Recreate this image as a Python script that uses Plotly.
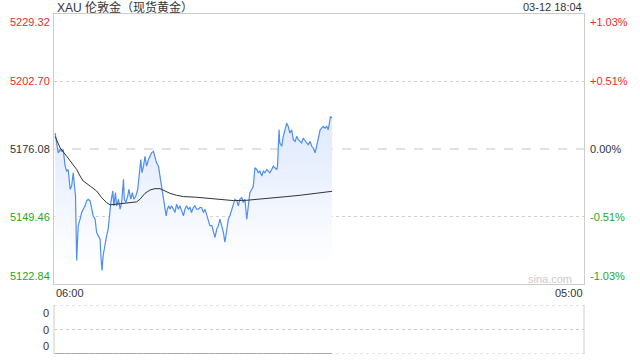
import plotly.graph_objects as go

# ---- data ----
title_text = "XAU 伦敦金（现货黄金）"
time_text = "03-12 18:04"
prev_close = 5176.08
price_ticks = [5229.32, 5202.70, 5176.08, 5149.46, 5122.84]
pct_ticks = ["+1.03%", "+0.51%", "0.00%", "-0.51%", "-1.03%"]
x_tick_labels = ["06:00", "05:00"]
session_minutes = 1380  # 06:00 -> 05:00 next day

# minutes after 06:00
price_times = [3, 7, 11, 16, 20, 24, 29, 33, 37, 42, 46, 50, 53, 56, 59, 63, 68, 72, 76, 81,
               85, 89, 94, 98, 102, 107, 111, 115, 120, 122, 125, 128, 133, 137, 141, 146, 148, 153, 156, 160,
               163, 168, 172, 176, 181, 183, 187, 192, 195, 200, 204, 208, 213, 218, 221, 226, 229, 233, 237, 241,
               246, 250, 254, 259, 263, 267, 272, 276, 280, 285, 289, 292, 295, 299, 302, 306, 311, 315, 319, 324,
               328, 332, 337, 341, 345, 350, 354, 358, 363, 367, 371, 376, 380, 384, 389, 393, 398, 402, 406, 411,
               415, 419, 424, 428, 432, 437, 441, 445, 450, 454, 458, 463, 467, 471, 476, 480, 484, 489, 493, 497,
               502, 506, 510, 515, 519, 523, 528, 532, 536, 541, 545, 549, 554, 558, 562, 567, 571, 575, 580, 582,
               586, 588, 593, 597, 601, 606, 610, 614, 619, 623, 628, 632, 636, 641, 645, 649, 654, 658, 662, 667,
               671, 675, 680, 684, 688, 693, 697, 701, 706, 710, 714, 717, 720, 724]
prices = [5182.36, 5178.45, 5174.54, 5175.84, 5175.19, 5175.84, 5169.32, 5167.36, 5168.01, 5160.18,
          5161.49, 5166.71, 5162.79, 5157.57, 5132.12, 5145.83, 5148.44, 5151.05, 5152.35, 5153.66,
          5155.61, 5156.27, 5155.61, 5152.35, 5149.74, 5148.44, 5143.22, 5141.91, 5140.61, 5134.08,
          5128.21, 5134.08, 5139.30, 5141.91, 5144.52, 5152.35, 5154.96, 5159.53, 5153.66, 5158.88,
          5153.66, 5156.27, 5152.35, 5154.96, 5164.10, 5156.27, 5154.96, 5157.57, 5160.18, 5156.27,
          5158.88, 5156.27, 5157.57, 5160.18, 5165.40, 5171.93, 5166.71, 5169.32, 5173.23, 5169.32,
          5171.93, 5173.23, 5174.54, 5175.19, 5172.58, 5170.62, 5169.32, 5165.40, 5161.49, 5157.57,
          5153.66, 5149.74, 5152.35, 5153.66, 5152.35, 5153.66, 5152.35, 5151.05, 5154.31, 5152.35,
          5153.66, 5151.70, 5149.74, 5152.35, 5153.66, 5152.35, 5153.00, 5151.05, 5153.00, 5153.66,
          5152.35, 5152.35, 5153.00, 5153.00, 5151.05, 5152.35, 5149.74, 5147.13, 5145.83, 5145.83,
          5143.22, 5141.26, 5144.52, 5145.83, 5148.44, 5145.83, 5143.22, 5139.30, 5144.52, 5148.44,
          5149.74, 5152.35, 5154.96, 5156.27, 5155.61, 5153.66, 5156.27, 5156.92, 5154.96, 5156.27,
          5148.44, 5154.96, 5158.88, 5160.18, 5161.49, 5168.66, 5168.01, 5166.71, 5167.36, 5165.40,
          5167.36, 5166.71, 5168.01, 5167.36, 5166.71, 5168.01, 5169.32, 5168.66, 5168.01, 5169.32,
          5183.67, 5178.45, 5177.15, 5181.06, 5183.67, 5186.28, 5184.98, 5182.37, 5183.67, 5179.76,
          5179.10, 5181.06, 5179.76, 5179.10, 5178.45, 5180.41, 5179.10, 5178.45, 5177.80, 5179.10,
          5177.15, 5176.49, 5174.54, 5177.80, 5181.06, 5183.67, 5184.32, 5184.98, 5184.32, 5184.98,
          5183.67, 5186.28, 5188.89, 5188.24]

avg_times = [3, 16, 33, 50, 59, 68, 76, 94, 111, 124, 137, 146, 163, 189, 215, 224, 237, 250, 263, 276,
             289, 302, 319, 337, 371, 406, 441, 467, 502, 536, 571, 606, 641, 675, 724]
avg_prices = [5181.06, 5176.49, 5173.23, 5169.97, 5168.01, 5165.40, 5163.44, 5161.49, 5159.53, 5156.92,
              5154.96, 5154.05, 5154.31, 5154.70, 5155.22, 5156.27, 5158.61, 5159.92, 5160.44, 5160.44,
              5159.53, 5158.61, 5157.83, 5157.31, 5157.05, 5156.66, 5156.27, 5155.74, 5155.87, 5156.27,
              5156.66, 5157.31, 5157.83, 5158.48, 5159.40]

volume_times = [price_times[0], price_times[-1]]
volumes = [0, 0]
volume_tick_labels = ["0", "0", "0"]

# ---- styling ----
FONT = "Liberation Sans, Arial, Noto Sans CJK SC, sans-serif"
RED = "#ee2a2a"
GREEN = "#1fa81f"
DARK = "#333333"
W, H = 640, 360
L, R = 54, 584
T_MAIN, B_MAIN = 14, 284
T_VOL, B_VOL = 305, 354


def py(p):
    return 1 - p / H


def px(p):
    return p / W


ymin, ymax = price_ticks[-1], price_ticks[0]

fig = go.Figure()

# baseline for the gradient fill
fig.add_trace(go.Scatter(x=[price_times[0], price_times[-1]], y=[ymin, ymin], mode="lines",
                         line=dict(width=0, color="rgba(0,0,0,0)"), hoverinfo="skip", showlegend=False))
fig.add_trace(go.Scatter(x=price_times, y=prices, mode="lines", fill="tonexty",
                         fillgradient=dict(type="vertical", start=ymin + 8, stop=5190,
                                           colorscale=[[0, "rgba(255,255,255,1)"],
                                                       [0.5, "rgba(238,243,253,1)"],
                                                       [1, "rgba(222,233,251,1)"]]),
                         line=dict(color="#4d8ef0", width=1.2), showlegend=False))
fig.add_trace(go.Scatter(x=avg_times, y=avg_prices, mode="lines",
                         line=dict(color="#333333", width=1), showlegend=False))
fig.add_trace(go.Scatter(x=volume_times, y=volumes, mode="lines", xaxis="x2", yaxis="y2",
                         line=dict(color="#666666", width=1.2), showlegend=False))

ax_common = dict(showgrid=False, zeroline=False, showticklabels=False, fixedrange=True)
fig.update_layout(
    width=W, height=H, margin=dict(l=0, r=0, t=0, b=0),
    paper_bgcolor="white", plot_bgcolor="rgba(0,0,0,0)",
    xaxis=dict(domain=[px(L), px(R)], range=[0, session_minutes], showline=True, mirror=True,
               linecolor="#cccccc", linewidth=1, **ax_common),
    yaxis=dict(domain=[py(B_MAIN), py(T_MAIN)], range=[ymin, ymax], showline=True, mirror=True,
               linecolor="#cccccc", linewidth=1, **ax_common),
    xaxis2=dict(domain=[px(L), px(R)], range=[0, session_minutes], anchor="y2", showline=False, **ax_common),
    yaxis2=dict(domain=[py(B_VOL), py(T_VOL)], range=[0, 2], anchor="x2", showline=False, **ax_common),
    showlegend=False,
)

shapes = []
# main gridlines at the middle ticks
for i, v in enumerate(price_ticks[1:-1]):
    is_close = abs(v - prev_close) < 1e-6
    shapes.append(dict(type="line", xref="x domain", yref="y", x0=0, x1=1, y0=v, y1=v,
                       line=dict(color="#c4c4c4" if is_close else "#d0d0d0", width=1,
                                 dash="dash" if is_close else "dot"), layer="below"))
# volume panel frame
for v in [0, 1, 2]:
    shapes.append(dict(type="line", xref="x2 domain", yref="y2", x0=0, x1=1, y0=v, y1=v,
                       line=dict(color="#cccccc", width=1, dash="dot"), layer="below"))
for xv in [0, 1]:
    shapes.append(dict(type="line", xref="x2 domain", yref="y2 domain", x0=xv, x1=xv, y0=0, y1=1,
                       line=dict(color="#cccccc", width=1), layer="below"))
fig.update_layout(shapes=shapes)

ann = []
# title and timestamp
ann.append(dict(text=title_text, x=px(L + 1), y=py(7), xref="paper", yref="paper", xanchor="left",
                yanchor="middle", showarrow=False, font=dict(family=FONT, size=12, color=DARK)))
ann.append(dict(text=time_text, x=px(R), y=py(7), xref="paper", yref="paper", xanchor="right",
                yanchor="middle", showarrow=False, font=dict(family=FONT, size=11, color=DARK)))

# price / percent labels
for i, (v, pt) in enumerate(zip(price_ticks, pct_ticks)):
    if v > prev_close + 1e-6:
        col = RED
    elif v < prev_close - 1e-6:
        col = GREEN
    else:
        col = DARK
    if i == 0:
        ya, ys = "top", 0
    elif i == len(price_ticks) - 1:
        ya, ys = "bottom", 0
    else:
        ya, ys = "middle", 0
    ann.append(dict(text=f"{v:.2f}", x=px(L - 2), y=v, xref="paper", yref="y", xanchor="right",
                    yanchor=ya, yshift=ys, showarrow=False, font=dict(family=FONT, size=11, color=col)))
    ann.append(dict(text=pt, x=px(R + 4), y=v, xref="paper", yref="y", xanchor="left",
                    yanchor=ya, yshift=ys, showarrow=False, font=dict(family=FONT, size=11, color=col)))

# time labels
ann.append(dict(text=x_tick_labels[0], x=px(L), y=py(293), xref="paper", yref="paper", xanchor="left",
                yanchor="middle", showarrow=False, font=dict(family=FONT, size=11, color=DARK)))
ann.append(dict(text=x_tick_labels[1], x=px(R + 1), y=py(293), xref="paper", yref="paper", xanchor="right",
                yanchor="middle", showarrow=False, font=dict(family=FONT, size=11, color=DARK)))

# watermark
ann.append(dict(text="sina.com", x=px(574), y=py(279), xref="paper", yref="paper", xanchor="right",
                yanchor="middle", showarrow=False, font=dict(family=FONT, size=11, color="#cccccc")))

# volume labels
for i, (v, lab) in enumerate(zip([2, 1, 0], volume_tick_labels)):
    ya = "top" if i == 0 else ("bottom" if i == 2 else "middle")
    ann.append(dict(text=lab, x=px(L - 3), y=v, xref="paper", yref="y2", xanchor="right", yanchor=ya,
                    showarrow=False, font=dict(family=FONT, size=11, color=DARK)))

fig.update_layout(annotations=ann)
fig.write_html("out.html")
